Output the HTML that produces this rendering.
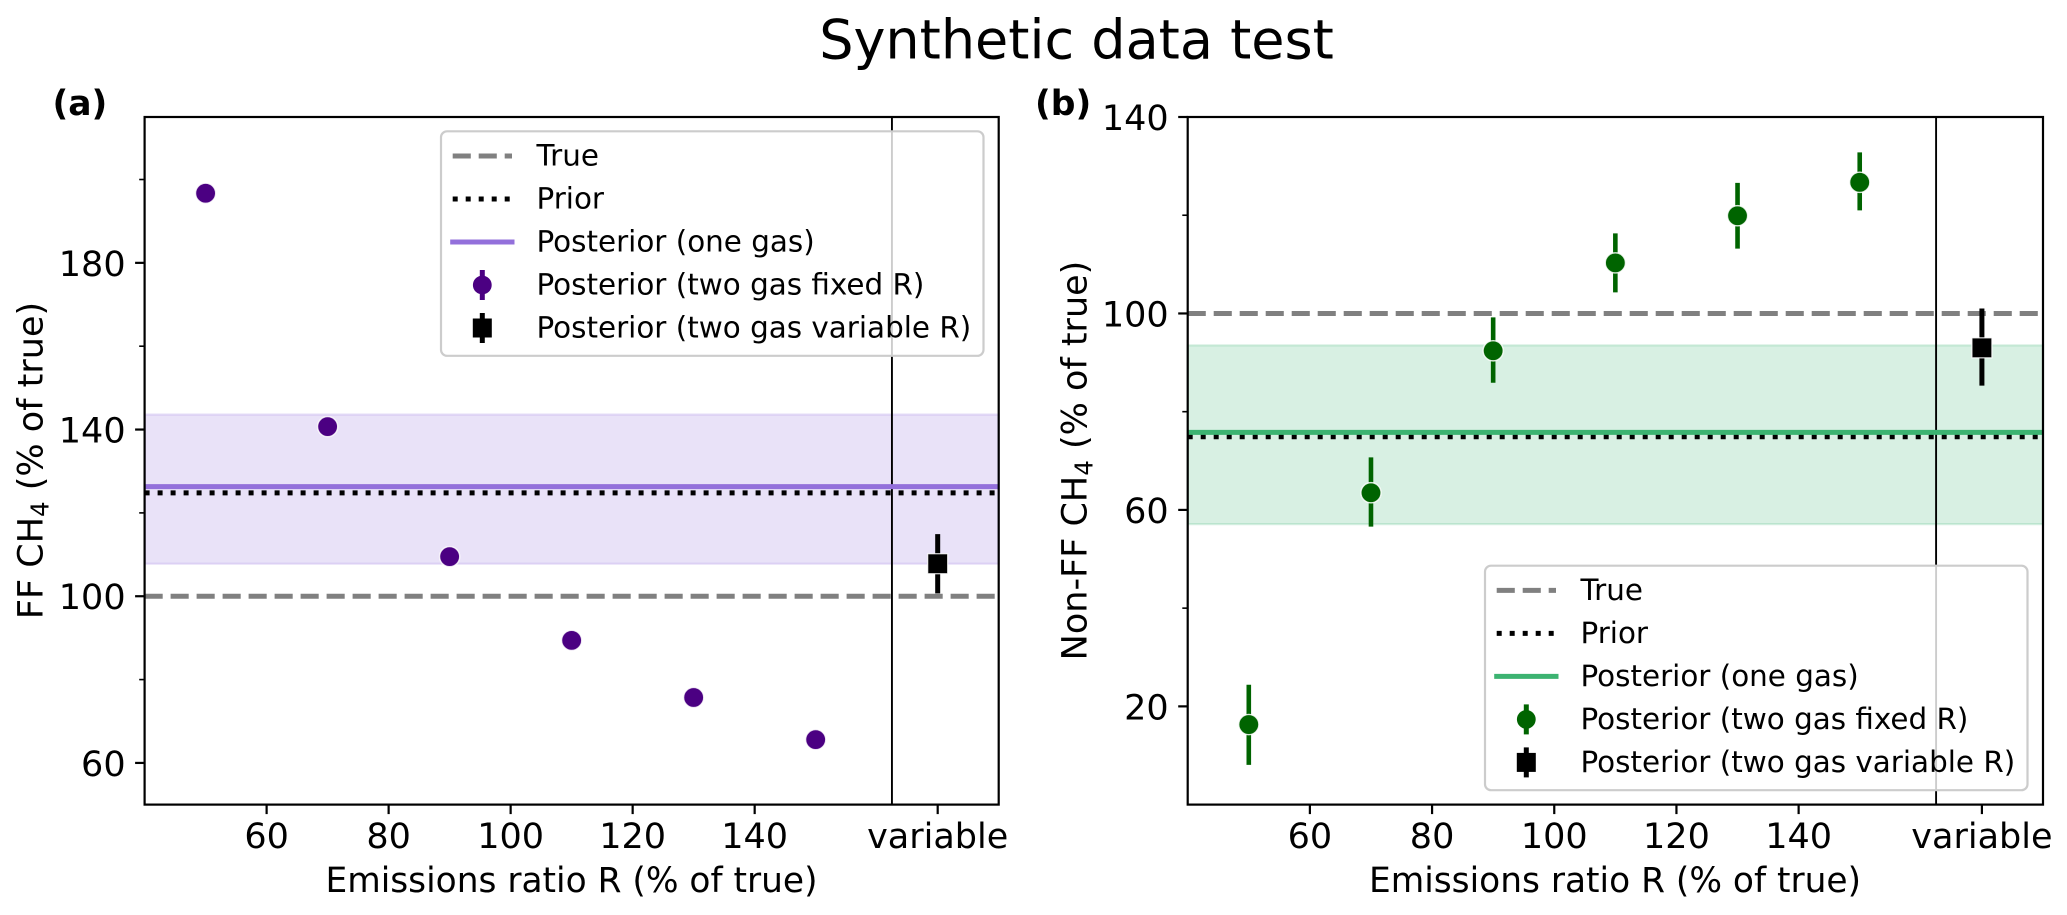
<!DOCTYPE html>
<html lang="en">
<head>
<meta charset="utf-8">
<title>Synthetic data test</title>
<style>
html,body{margin:0;padding:0;background:#fff;}
svg{display:block;}
text{font-family:"DejaVu Sans","Liberation Sans",sans-serif;fill:#000;}
</style>
</head>
<body>
<svg id="figure" xmlns="http://www.w3.org/2000/svg" width="2067" height="915" viewBox="0 0 2067 915">
  <rect x="0" y="0" width="2067" height="915" fill="#fff"/>
  <text x="1076.5" y="58.5" font-size="54" text-anchor="middle">Synthetic data test</text>
  <text x="52.5" y="115" font-size="34.5" font-weight="bold">(a)</text>
  <text x="1035" y="115" font-size="34.5" font-weight="bold">(b)</text>
  <text x="571.5" y="892" font-size="34.4" text-anchor="middle">Emissions ratio R (% of true)</text>
  <text x="1615" y="892" font-size="34.4" text-anchor="middle">Emissions ratio R (% of true)</text>
  <text transform="translate(42.5,460.5) rotate(-90)" font-size="35" text-anchor="middle">FF CH<tspan font-size="24.5" dy="6">4</tspan><tspan dy="-6"> (% of true)</tspan></text>
  <text transform="translate(1086.5,460.5) rotate(-90)" font-size="35" text-anchor="middle">Non-FF CH<tspan font-size="24.5" dy="6">4</tspan><tspan dy="-6"> (% of true)</tspan></text>
  <g id="panel-a"></g>
  <g id="panel-b"></g>
</svg>
<script>
// ---- shared categories and ticks ----
const ratioCategories = [50, 70, 90, 110, 130, 150];
const variableCategory = 170;
const separatorValue = 162.5;
const xTickValues = [60, 80, 100, 120, 140, 170];
const xTickLabels = ['60', '80', '100', '120', '140', 'variable'];
const xDomain = [40, 180];
const trueValue = 100;

// ---- panel (a): FF CH4 ----
const ffFixedValues = [196.7, 140.7, 109.5, 89.4, 75.7, 65.6];
const ffFixedErrors = [1.5, 1.5, 1.5, 1.5, 1.5, 1.5];
const ffVariableValue = 107.8;
const ffVariableError = 7.1;
const ffPrior = 124.8;
const ffPosterior = 126.3;
const ffBand = [107.8, 143.6];
const ffDomain = [50, 215];
const ffMajorTicks = [60, 100, 140, 180];
const ffMinorTicks = [80, 120, 160, 200];

// ---- panel (b): Non-FF CH4 ----
const nonFfFixedValues = [16.3, 63.5, 92.4, 110.3, 119.9, 126.7];
const nonFfFixedLow = [8.1, 56.6, 85.9, 104.3, 113.2, 121.0];
const nonFfFixedHigh = [24.4, 70.7, 99.2, 116.3, 126.6, 132.8];
const nonFfVariableValue = 93.0;
const nonFfVariableLow = 85.3;
const nonFfVariableHigh = 101.0;
const nonFfPrior = 74.9;
const nonFfPosterior = 75.8;
const nonFfBand = [57.1, 93.5];
const nonFfDomain = [0, 140];
const nonFfMajorTicks = [20, 60, 100, 140];
const nonFfMinorTicks = [40, 80, 120];

const legendLabels = ['True', 'Prior', 'Posterior (one gas)', 'Posterior (two gas fixed R)', 'Posterior (two gas variable R)'];

const SVG_NS = 'http://www.w3.org/2000/svg';
function add(parent, tag, attrs, text) {
  const el = document.createElementNS(SVG_NS, tag);
  for (const k in attrs) el.setAttribute(k, attrs[k]);
  if (text !== undefined) el.textContent = text;
  parent.appendChild(el);
  return el;
}

function drawPanel(cfg) {
  const g = document.getElementById(cfg.id);
  const L = cfg.left, R = cfg.right, T = 117, B = 804.6;
  const xScale = v => L + (v - xDomain[0]) / (xDomain[1] - xDomain[0]) * (R - L);
  const yScale = v => B - (v - cfg.yDomain[0]) / (cfg.yDomain[1] - cfg.yDomain[0]) * (B - T);

  const band = add(g, 'rect', {x: L, y: yScale(cfg.band[1]), width: R - L, height: yScale(cfg.band[0]) - yScale(cfg.band[1]), fill: cfg.lineColor, 'fill-opacity': 0.2, stroke: cfg.lineColor, 'stroke-opacity': 0.2, 'stroke-width': 2.2});
  
  

  const sep = add(g, 'line', {x1: xScale(separatorValue), x2: xScale(separatorValue), y1: T, y2: B, stroke: '#000', 'stroke-width': 1.9});
  
  

  const trueLine = add(g, 'line', {x1: L, x2: R, y1: yScale(trueValue), y2: yScale(trueValue), stroke: '#808080', 'stroke-width': 5, 'stroke-dasharray': '18.1 7.9'});
  
  

  const priorLine = add(g, 'line', {x1: L, x2: R, y1: yScale(cfg.prior), y2: yScale(cfg.prior), stroke: '#000', 'stroke-width': 5, 'stroke-dasharray': '5 8'});
  
  

  const postLine = add(g, 'line', {x1: L, x2: R, y1: yScale(cfg.posterior), y2: yScale(cfg.posterior), stroke: cfg.lineColor, 'stroke-width': 5});
  
  

  ratioCategories.forEach((r, i) => {
    const err = add(g, 'line', {x1: xScale(r), x2: xScale(r), y1: yScale(cfg.low[i]), y2: yScale(cfg.high[i]), stroke: cfg.pointColor, 'stroke-width': 4.6});
    
    
    const dot = add(g, 'circle', {cx: xScale(r), cy: yScale(cfg.values[i]), r: 10.1, fill: cfg.pointColor, stroke: '#fff', 'stroke-width': 1.4, 'stroke-opacity': 0.85});
    
    
  });

  const varErr = add(g, 'line', {x1: xScale(variableCategory), x2: xScale(variableCategory), y1: yScale(cfg.varLow), y2: yScale(cfg.varHigh), stroke: '#000', 'stroke-width': 5});
  
  
  const varX = xScale(variableCategory), varY = yScale(cfg.varValue);
  const varMark = add(g, 'rect', {x: varX - 10, y: varY - 10, width: 20, height: 20, fill: '#000', stroke: '#fff', 'stroke-width': 1.2, 'stroke-opacity': 0.85});
  
  

  const frame = add(g, 'rect', {x: L, y: T, width: R - L, height: B - T, fill: 'none', stroke: '#000', 'stroke-width': 2.2});
  
  

  xTickValues.forEach((v, i) => {
    const tick = add(g, 'line', {x1: xScale(v), x2: xScale(v), y1: B, y2: B + 9.5, stroke: '#000', 'stroke-width': 2.2});
    
    
    const label = add(g, 'text', {x: xScale(v), y: 848, 'font-size': 35, 'text-anchor': 'middle'}, xTickLabels[i]);
    
    
  });
  cfg.major.forEach(v => {
    const tick = add(g, 'line', {x1: L - 9.5, x2: L, y1: yScale(v), y2: yScale(v), stroke: '#000', 'stroke-width': 2.2});
    
    
    const label = add(g, 'text', {x: L - 19, y: yScale(v) + 13, 'font-size': 35, 'text-anchor': 'end'}, String(v));
    
    
  });
  cfg.minor.forEach(v => {
    const tick = add(g, 'line', {x1: L - 5.4, x2: L, y1: yScale(v), y2: yScale(v), stroke: '#000', 'stroke-width': 1.6});
    
    
  });

  drawLegend(g, cfg);
}

function drawLegend(g, cfg) {
  const lx = cfg.legendX, ly = cfg.legendY;
  const legend = add(g, 'g', {});
  
  
  const box = add(legend, 'rect', {x: lx, y: ly, width: 542.5, height: 224.5, rx: 6, ry: 6, fill: '#fff', 'fill-opacity': 0.8, stroke: '#ccc', 'stroke-width': 2.2});
  
  
  const hL = lx + 11.7, hR = lx + 71, hC = lx + 41.3;
  const rowY = i => ly + 24.7 + 43 * i;

  const h0 = add(legend, 'line', {x1: hL, x2: hR, y1: rowY(0), y2: rowY(0), stroke: '#808080', 'stroke-width': 5, 'stroke-dasharray': '18.1 7.9'});
  
  
  const h1 = add(legend, 'line', {x1: hL, x2: hR, y1: rowY(1), y2: rowY(1), stroke: '#000', 'stroke-width': 5, 'stroke-dasharray': '5 8'});
  
  
  const h2 = add(legend, 'line', {x1: hL - 2.5, x2: hR + 2.5, y1: rowY(2), y2: rowY(2), stroke: cfg.lineColor, 'stroke-width': 5});
  
  
  const h3e = add(legend, 'line', {x1: hC, x2: hC, y1: rowY(3) - 15, y2: rowY(3) + 15, stroke: cfg.pointColor, 'stroke-width': 5});
  
  
  const h3 = add(legend, 'circle', {cx: hC, cy: rowY(3), r: 9.4, fill: cfg.pointColor});
  
  
  const h4e = add(legend, 'line', {x1: hC, x2: hC, y1: rowY(4) - 15, y2: rowY(4) + 15, stroke: '#000', 'stroke-width': 5});
  
  
  const h4 = add(legend, 'rect', {x: hC - 9.5, y: rowY(4) - 9.5, width: 19, height: 19, fill: '#000'});
  
  

  legendLabels.forEach((text, i) => {
    const t = add(legend, 'text', {x: lx + 95.5, y: ly + 34.4 + 43 * i, 'font-size': 29.4}, text);
    
    
  });
}

drawPanel({
  id: 'panel-a', left: 144.6, right: 998.7, yDomain: ffDomain,
  values: ffFixedValues,
  low: ffFixedValues.map((v, i) => v - ffFixedErrors[i]),
  high: ffFixedValues.map((v, i) => v + ffFixedErrors[i]),
  varValue: ffVariableValue, varLow: ffVariableValue - ffVariableError, varHigh: ffVariableValue + ffVariableError,
  prior: ffPrior, posterior: ffPosterior, band: ffBand,
  major: ffMajorTicks, minor: ffMinorTicks,
  lineColor: '#9370DB', pointColor: '#4B0082',
  legendX: 441, legendY: 131.3
});
drawPanel({
  id: 'panel-b', left: 1187.7, right: 2043, yDomain: nonFfDomain,
  values: nonFfFixedValues, low: nonFfFixedLow, high: nonFfFixedHigh,
  varValue: nonFfVariableValue, varLow: nonFfVariableLow, varHigh: nonFfVariableHigh,
  prior: nonFfPrior, posterior: nonFfPosterior, band: nonFfBand,
  major: nonFfMajorTicks, minor: nonFfMinorTicks,
  lineColor: '#3CB371', pointColor: '#006400',
  legendX: 1485, legendY: 565.7
});
</script>
</body>
</html>
